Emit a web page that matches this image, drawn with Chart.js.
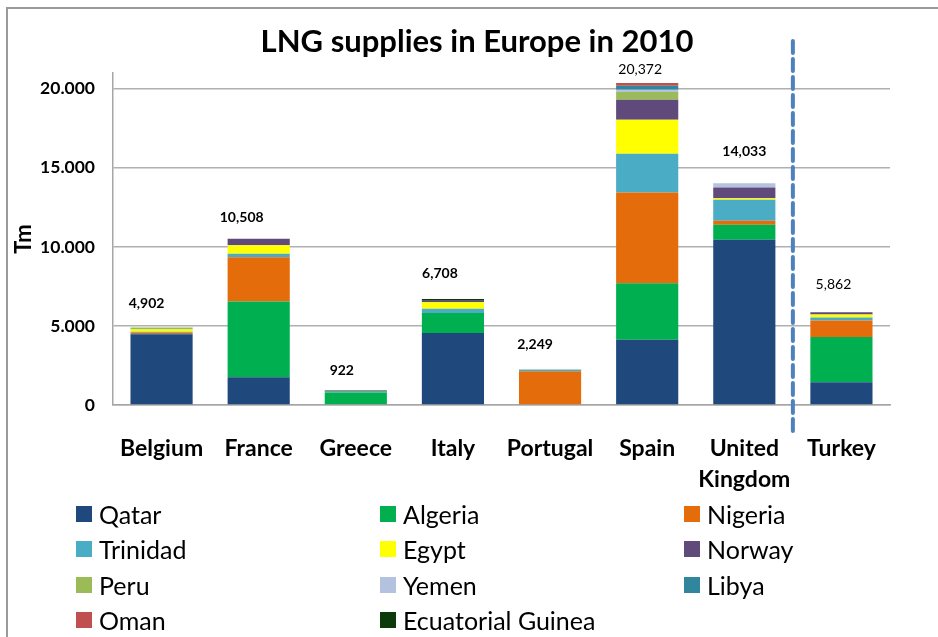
<!DOCTYPE html>
<html>
<head>
<meta charset="utf-8">
<script src="https://cdn.jsdelivr.net/npm/chart.js@4"></script>
<style>
  body { margin: 0; background: #fff; font-family: Lato, sans-serif; }
  #wrap { position: relative; width: 938px; height: 637px; overflow: hidden; }
  #frame { position: absolute; left: 6px; top: 7px; width: 1000px; height: 1000px;
           border-left: 2px solid #9a9a9a; border-top: 2px solid #9a9a9a; }
  #legend { position: absolute; left: 76px; top: 496px; display: grid;
            grid-template-columns: 304px 304px 260px; grid-auto-rows: 35.5px; }
  .item { display: flex; align-items: center; font-size: 25px; color: #000; }
  .box { width: 16px; height: 16px; margin-right: 7px; flex: none; }
</style>
</head>
<body>
<div id="wrap">
  <div id="frame"></div>
  <canvas id="chart" width="938" height="637"></canvas>
  <div id="legend"></div>
</div>
<script>
const countries = ['Belgium', 'France', 'Greece', 'Italy', 'Portugal', 'Spain', ['United', 'Kingdom'], 'Turkey'];

// supplies by origin, Tm
const qatar     = [4480, 1760,   0, 4558,    0, 4135, 10445, 1435];
const algeria   = [   0, 4780, 790, 1266,    0, 3565,   949, 2869];
const nigeria   = [  90, 2810,   0,    0, 2140, 5740,   253, 1034];
const trinidad  = [  60,  210,  62,  272,  109, 2448,  1330,  190];
const egypt     = [ 140,  550,   0,  404,    0, 2152,   107,  189];
const norway    = [   0,  398,   0,  100,    0, 1266,   671,  145];
const peru      = [ 132,    0,   0,    0,    0,  487,     0,    0];
const yemen     = [   0,    0,   0,    0,    0,  147,   278,    0];
const libya     = [   0,    0,   0,    0,    0,  253,     0,    0];
const oman      = [   0,    0,   0,    0,    0,  179,     0,    0];
const eqGuinea  = [   0,    0,  70,  108,    0,    0,     0,    0];

const yTicks = [0, 5000, 10000, 15000, 20000];

const series = [
  ['Qatar', qatar, '#1f497d'],
  ['Algeria', algeria, '#00b050'],
  ['Nigeria', nigeria, '#e46c0a'],
  ['Trinidad', trinidad, '#4bacc6'],
  ['Egypt', egypt, '#ffff00'],
  ['Norway', norway, '#604a7b'],
  ['Peru', peru, '#9bbb59'],
  ['Yemen', yemen, '#b3c2df'],
  ['Libya', libya, '#31859c'],
  ['Oman', oman, '#c0504d'],
  ['Ecuatorial Guinea', eqGuinea, '#0b3b0b']
];

const totalsPlugin = {
  id: 'totals',
  afterDatasetsDraw(chart, args, opts) {
    const { ctx, scales: { x, y } } = chart;
    ctx.save();
    ctx.fillStyle = '#000';
    ctx.textAlign = 'center';
    ctx.textBaseline = 'middle';
    countries.forEach((c, i) => {
      const total = chart.data.datasets.reduce((s, ds) => s + ds.data[i], 0);
      ctx.font = opts.weights[i] + ' 14px Lato';
      ctx.fillText(total.toLocaleString('en-US'),
        x.getPixelForValue(i) + opts.dx[i],
        y.getPixelForValue(total) - opts.offsets[i]);
    });
    ctx.restore();
  }
};

const extrasPlugin = {
  id: 'extras',
  afterDraw(chart) {
    const { ctx, chartArea, scales: { x } } = chart;
    ctx.save();
    // title
    ctx.fillStyle = '#000';
    ctx.font = 'bold 31px Lato';
    ctx.textAlign = 'center';
    ctx.textBaseline = 'middle';
    ctx.fillText('LNG supplies in Europe in 2010', 477, 42);
    // dashed separator between UK and Turkey
    const sx = (x.getPixelForValue(6) + x.getPixelForValue(7)) / 2;
    ctx.strokeStyle = '#4f81bd';
    ctx.lineWidth = 4;
    ctx.lineCap = 'round';
    ctx.setLineDash([12, 6]);
    ctx.beginPath();
    ctx.moveTo(sx, chartArea.top - 32);
    ctx.lineTo(sx, chartArea.bottom + 28);
    ctx.stroke();
    ctx.restore();
  }
};

const chart = new Chart(document.getElementById('chart'), {
  type: 'bar',
  data: {
    labels: countries,
    datasets: series.map(([label, data, color]) => ({
      label: label,
      data: data,
      backgroundColor: color,
      borderWidth: 0,
      categoryPercentage: 1,
      barPercentage: 0.64
    }))
  },
  options: {
    responsive: false,
    animation: false,
    layout: { padding: { left: 7, right: 48, top: 73, bottom: 0 } },
    plugins: {
      legend: { display: false },
      tooltip: { enabled: false },
      totals: {
        weights: ['bold', 'bold', 'bold', 'bold', 'bold', 'normal', 'bold', 'normal'],
        offsets: [24, 21, 20, 25, 25, 13, 32, 28],
        dx: [-15, -17, -14, -13, -15, -7, 0, -8]
      }
    },
    scales: {
      x: {
        stacked: true,
        grid: { display: false },
        border: { color: '#a6a6a6', width: 1.5 },
        ticks: {
          color: '#000',
          padding: 20,
          maxRotation: 0,
          font: { family: 'Lato', size: 23, weight: 'bold', lineHeight: 1.35 }
        },
        afterFit(scale) { scale.height = 637 - 405; }
      },
      y: {
        stacked: true,
        min: 0,
        max: 21000,
        afterBuildTicks(scale) {
          scale.ticks = yTicks.map(v => ({ value: v }));
        },
        afterFit(scale) { scale.width = 106; },
        grid: { color: '#b0b0b0', lineWidth: 1.5, drawTicks: false },
        border: { color: '#a6a6a6', width: 1.5 },
        ticks: {
          color: '#000',
          padding: 18,
          font: { family: 'Lato', size: 17.5, weight: 'bold' },
          callback: v => v.toLocaleString('en-US').replace(/,/g, '.')
        },
        title: {
          display: true,
          text: 'Tm',
          color: '#000',
          padding: { top: 4, bottom: 0 },
          font: { family: 'Lato', size: 22, weight: 'bold' }
        }
      }
    }
  },
  plugins: [totalsPlugin, extrasPlugin]
});

const legend = document.getElementById('legend');
series.forEach(([label, data, color]) => {
  const item = document.createElement('div');
  item.className = 'item';
  item.innerHTML = '<span class="box" style="background:' + color + '"></span>' + label;
  legend.appendChild(item);
});
</script>
</body>
</html>
